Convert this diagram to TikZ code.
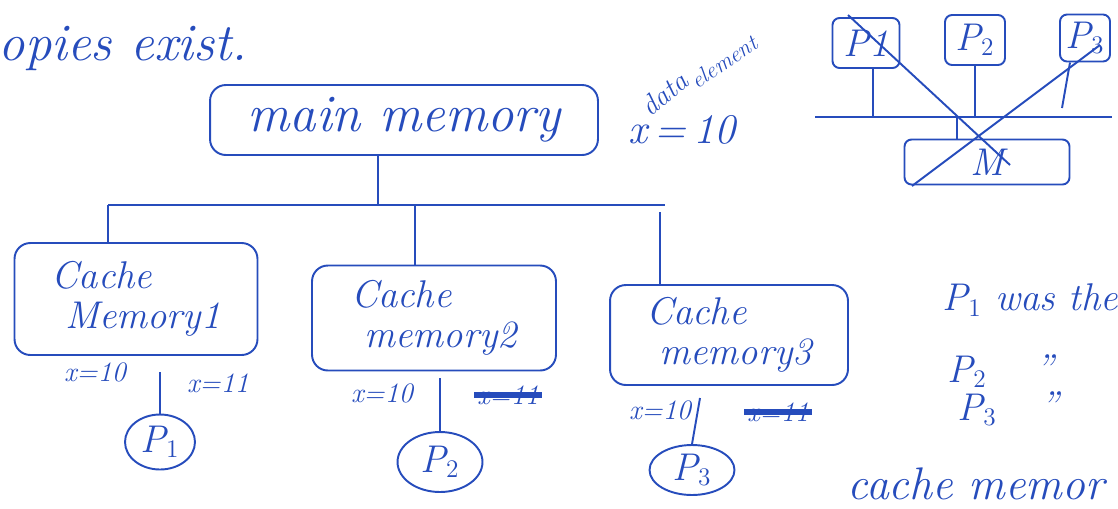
\documentclass[tikz,border=0pt]{standalone}
\usepackage{tikz}
\usetikzlibrary{shapes}
\usetikzlibrary{arrows}
\definecolor{ink}{RGB}{38,76,188}
\tikzstyle{hand}=[text=ink,font=\itshape\fontsize{22}{23}\selectfont,inner sep=1pt]
\tikzstyle{big hand}=[hand,font=\itshape\fontsize{30}{32}\selectfont]
\tikzstyle{small hand}=[hand,font=\itshape\fontsize{16}{17}\selectfont]
\tikzstyle{membox}=[draw=ink,rounded corners=9pt,line width=1.1pt,align=left]
\tikzstyle{proc}=[draw=ink,ellipse,line width=1.1pt,hand,inner sep=0pt]
\tikzstyle{pbox}=[draw=ink,rounded corners=4pt,line width=1.1pt,hand,inner sep=0pt]
\tikzstyle{struck}=[small hand]

\begin{document}
\begin{tikzpicture}[x=0.02cm,y=-0.02cm,line width=1.1pt,draw=ink]
\useasboundingbox (0,0) rectangle (1118,508);
\node[big hand,anchor=west] (note) at (-4,48) {opies exist.};
\node[membox,big hand,minimum width=7.76cm,minimum height=1.4cm] (main) at (404,120) {main memory};
\node[small hand,rotate=40] (data) at (664,94) {data};
\node[hand,rotate=34,font=\itshape\fontsize{13}{13}\selectfont] (elem) at (724,62) {element};
\node[hand,font=\itshape\fontsize{24}{26}\selectfont] (xval) at (682,130) {x\,=\,10};
% caches
\node[membox,hand,minimum width=4.86cm,minimum height=2.24cm] (c1) at (136,299) {Cache\\ \ Memory1};
\node[membox,hand,minimum width=4.88cm,minimum height=2.1cm] (c2) at (434,318) {Cache\\ \ memory2};
\node[membox,hand,minimum width=4.76cm,minimum height=2.0cm] (c3) at (729,335) {Cache\\ \ memory3};
\coordinate (jn) at (378,205);
\coordinate (lft) at (108,205);
\coordinate (rgt) at (665,205);
\draw (main.south -| jn) -- (jn);
\draw (lft) -- (rgt);
\draw (lft) -- (lft |- c1.north);
\draw (415,205) -- (415,265);
\draw (660,212) -- (660 ,285);
% copies of x
\node[small hand] (x1) at (95,372) {x=10};
\node[small hand] (y1) at (218,383) {x=11};
\node[small hand] (x2) at (382,393) {x=10};
\node[struck] (y2) at (508,395) {x=11};
\draw[line width=3pt] (y2.west) -- (y2.east);
\node[small hand] (x3) at (660,410) {x=10};
\node[struck] (y3) at (778,412) {x=11};
\draw[line width=3pt] (y3.west) -- (y3.east);
% processors
\node[proc,minimum width=1.4cm,minimum height=1.1cm] (p1) at (160,442) {P$_1$};
\node[proc,minimum width=1.7cm,minimum height=1.2cm] (p2) at (440,462) {P$_2$};
\node[proc,minimum width=1.7cm,minimum height=1.0cm] (p3) at (692,470) {P$_3$};
\coordinate (t1) at (160,372);
\coordinate (t2) at (440,378);
\coordinate (t3) at (700,398);
\draw (t1) -- (p1.north);
\draw (t2) -- (p2.north);
\draw (t3) -- (p3.north);
% shared bus sketch
\node[pbox,minimum width=1.34cm,minimum height=1.0cm] (q1) at (866,43) {P1};
\node[pbox,minimum width=1.2cm,minimum height=1.0cm] (q2) at (975,40) {P$_2$};
\node[pbox,minimum width=1.0cm,minimum height=0.94cm] (q3) at (1085,38) {P$_3$};
\node[pbox,minimum width=3.3cm,minimum height=0.9cm] (m) at (987,162) {M};
\coordinate (bl) at (815,117);
\coordinate (br) at (1112,117);
\coordinate (tap) at (957,117);
\coordinate (q3end) at (1062,108);
\draw (bl) -- (br);
\draw (q1.south -| 873,0) -- (873,117);
\draw (q2.south) -- (q2.south |- tap);
\draw ([xshift=-0.3cm]q3.south) -- (q3end);
\draw (tap) -- (tap |- m.north);
\coordinate (xa) at (848,15);
\coordinate (xb) at (1010,165);
\coordinate (xc) at (912,186);
\coordinate (xd) at (1100,45);
\draw (xa) -- (xb);
\draw (xc) -- (xd);
% notes
\node[hand,anchor=west] (n1) at (940,300) {P$_1$ was the};
\node[hand,anchor=west] (n2) at (945,372) {P$_2$};
\node[hand] (d2) at (1045,368) {''};
\node[hand,anchor=west] (n3) at (955,410) {P$_3$};
\node[hand] (d3) at (1050,405) {''};
\node[hand,anchor=west,font=\itshape\fontsize{26}{28}\selectfont] (n4) at (845,484) {cache memor};
\end{tikzpicture}
\end{document}
